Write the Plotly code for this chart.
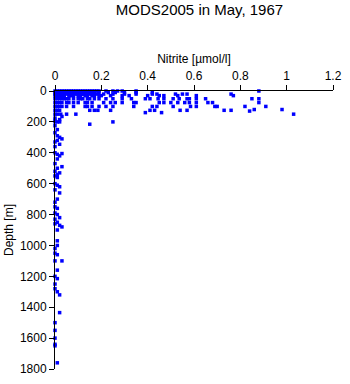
import plotly.graph_objects as go

# Surface-layer profiles (depth m, nitrite umol/l)
d0 = [0]*26
v0 = [0.0,0.01,0.02,0.03,0.04,0.05,0.06,0.07,0.08,0.09,0.10,0.11,0.12,0.13,0.14,0.15,0.16,0.17,0.18,0.19,0.22,0.25,0.27,0.29,0.35,0.88]
d10 = [10]*24
v10 = [0.0,0.01,0.02,0.03,0.04,0.05,0.06,0.07,0.08,0.09,0.10,0.11,0.12,0.13,0.14,0.15,0.16,0.17,0.19,0.23,0.26,0.30,0.42,0.35]
d20 = [20]*27
v20 = [0.0,0.01,0.02,0.03,0.04,0.05,0.06,0.08,0.09,0.10,0.11,0.12,0.14,0.15,0.16,0.18,0.21,0.25,0.30,0.35,0.42,0.44,0.52,0.55,0.57,0.76,0.12]
d30 = [30]*25
v30 = [0.0,0.01,0.02,0.03,0.04,0.06,0.07,0.08,0.10,0.11,0.13,0.14,0.16,0.17,0.20,0.24,0.29,0.32,0.40,0.45,0.47,0.53,0.61,0.77,0.19]
d50 = [50]*31
v50 = [0.0,0.01,0.02,0.03,0.04,0.05,0.06,0.08,0.10,0.11,0.12,0.14,0.15,0.17,0.19,0.22,0.25,0.29,0.33,0.39,0.41,0.445,0.47,0.51,0.536,0.57,0.58,0.61,0.65,0.85,0.88]
d75 = [75]*27
v75 = [0.0,0.01,0.02,0.03,0.05,0.06,0.08,0.10,0.13,0.14,0.16,0.21,0.24,0.26,0.29,0.34,0.35,0.45,0.47,0.50,0.53,0.56,0.58,0.61,0.66,0.68,0.88]
d100 = [100]*22
v100 = [0.0,0.01,0.02,0.03,0.05,0.08,0.13,0.14,0.16,0.19,0.22,0.25,0.34,0.42,0.44,0.51,0.585,0.61,0.69,0.70,0.82,0.91]
d125 = [125]*13
v125 = [0.0,0.01,0.02,0.15,0.17,0.185,0.24,0.41,0.43,0.54,0.57,0.73,0.76]
dx = [120,120,140,140,130,150,150,150,150,150,150,165,200,200,200,215,200,175,185,190]
vx = [0.86,0.98,0.39,0.46,0.84,0.0,0.01,0.025,0.05,0.09,1.03,0.03,0.0,0.02,0.25,0.15,0.01,0.0,0.02,0.0]

# Deep samples
d_deep = [225,250,270,290,300,310,320,330,345,360,400,405,410,420,440,470,490,500,520,530,540,550,560,600,610,620,640,660,700,720,750,760,790,800,820,830,850,860,870,880,900,970,1000,1020,1050,1060,1100,1100,1160,1200,1215,1250,1280,1300,1320,1435,1500,1550,1600,1640,1650,1760]
v_deep = [0.0,0.01,0.0,0.01,0.02,0.03,0.01,0.0,0.02,0.0,0.0,0.03,0.01,0.02,0.01,0.0,0.03,0.01,0.0,0.02,0.01,0.0,0.01,0.0,0.01,0.02,0.0,0.02,0.01,0.0,0.0,0.01,0.0,0.01,0.02,0.0,0.01,0.0,0.02,0.03,0.01,0.01,0.01,0.0,0.0,0.01,0.0,0.03,0.01,0.0,0.01,0.0,0.0,0.01,0.02,0.02,0.0,0.0,0.0,0.0,0.0,0.01]

depth = d0 + d10 + d20 + d30 + d50 + d75 + d100 + d125 + dx + d_deep
nitrite = v0 + v10 + v20 + v30 + v50 + v75 + v100 + v125 + vx + v_deep

x_ticks = [0, 0.2, 0.4, 0.6, 0.8, 1.0, 1.2]
x_labels = ["0", "0.2", "0.4", "0.6", "0.8", "1", "1.2"]
y_ticks = [0, 200, 400, 600, 800, 1000, 1200, 1400, 1600, 1800]

fig = go.Figure(go.Scatter(
    x=nitrite, y=depth, mode="markers",
    marker=dict(symbol="square", size=3.5, color="#0000ff", line=dict(width=0)),
    cliponaxis=False, showlegend=False,
))

fnt = "Liberation Sans, Arial, sans-serif"
fig.update_layout(
    width=350, height=384,
    margin=dict(l=54, r=10, t=91, b=8),
    paper_bgcolor="white", plot_bgcolor="white",
    font=dict(family=fnt, size=12, color="black"),
    title=dict(text="MODS2005 in May, 1967", x=0.57, xanchor="center",
               y=0.988, yanchor="top", font=dict(size=15, family=fnt)),
    xaxis=dict(side="top", range=[0, 1.2], tickvals=x_ticks, ticktext=x_labels,
               showgrid=False, zeroline=False, showline=True, linecolor="black",
               linewidth=1, ticks="outside", ticklen=5, tickcolor="black",
               title=dict(text="Nitrite [µmol/l]", standoff=3, font=dict(size=12))),
    yaxis=dict(range=[1800, 0], tickvals=y_ticks, showgrid=False, zeroline=False,
               showline=True, linecolor="black", linewidth=1, ticks="outside",
               ticklen=5, tickcolor="black",
               title=dict(text="Depth [m]", standoff=3, font=dict(size=12))),
)

fig.write_html("out.html")
